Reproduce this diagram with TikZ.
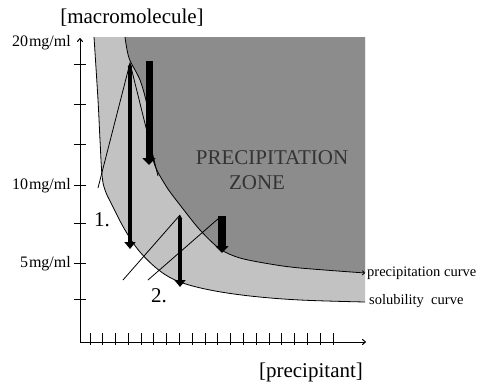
\documentclass[tikz,border=0pt]{standalone}
\usepackage{fontspec}
\setmainfont{Liberation Serif}
\usetikzlibrary{arrows.meta}
\definecolor{dotgray}{gray}{0.76}
\definecolor{checkgray}{gray}{0.55}
\begin{document}
\begin{tikzpicture}[x=1pt,y=-1pt,
  thinline/.style={line width=0.8pt},
  axisline/.style={line width=1pt,-{To[length=4pt,width=6pt]}},
  tickline/.style={line width=1pt},
  bigarrow/.style={line width=4.5pt,{Triangle[length=4pt,width=4.5pt]}-{Triangle[length=7pt,width=11pt]}},
  fatarrow/.style={line width=7pt,-{Triangle[length=7pt,width=13pt]}},
  ylabel/.style={inner sep=0pt,anchor=east,font=\fontsize{16}{18}\selectfont},
  biglabel/.style={inner sep=0pt,font=\fontsize{21}{24}\selectfont},
  curvelabel/.style={inner sep=0pt,anchor=west,font=\fontsize{14.5}{16}\selectfont},
]
\useasboundingbox (0,0) rectangle (488,389);

% regions
\fill[dotgray] plot[smooth,tension=0.6] coordinates {(94,37) (98,100) (100,140) (102,175) (105,190) (112,205) (125,230) (140,252) (160,271) (180,282) (210,290) (250,296) (300,300) (365,302)} -- (365,37) -- cycle;
\fill[checkgray] plot[smooth,tension=0.5] coordinates {(125,37) (129,58) (140,80) (147,105) (151,135) (154,163) (166,186) (180,205) (200,230) (220,249) (240,258) (270,264) (300,268) (365,273)} -- (365,37) -- cycle;

% curves
\draw[thinline] plot[smooth,tension=0.6] coordinates {(94,37) (98,100) (100,140) (102,175) (105,190) (112,205) (125,230) (140,252) (160,271) (180,282) (210,290) (250,296) (300,300) (365,302)};
\draw[thinline,-{To[length=3pt,width=5pt]}] plot[smooth,tension=0.5] coordinates {(125,37) (129,58) (140,80) (147,105) (151,135) (154,163) (166,186) (180,205) (200,230) (220,249) (240,258) (270,264) (300,268) (365,273)};

% axes
\coordinate (O) at (80,342);
\coordinate (ytop) at (80,38);
\coordinate (xend) at (366,342);
\draw[axisline] (O) -- (ytop);
\draw[axisline] (O) -- (xend);
\foreach \y in {64,104,144,185,223,263,299} \draw[tickline] (74,\y) -- (86,\y);
\foreach \i in {0,...,19} \draw[tickline] ({90+\i*12.79},333) -- ({90+\i*12.79},345);

% axis labels
\node[biglabel] (ylab) at (132,18) {[macromolecule]};
\node[biglabel] (xlab) at (311,372) {[precipitant]};
\node[ylabel] (l20) at (71,43) {20\kern1pt mg/ml};
\node[ylabel] (l10) at (71,186) {10\kern1pt mg/ml};
\node[ylabel] (l5) at (71,264) {5\kern1pt mg/ml};

% thin path lines
\coordinate (a1top) at (130,63);
\coordinate (a1bot) at (130,249);
\coordinate (a2top) at (149,61);
\coordinate (a2bot) at (149,165);
\coordinate (a3top) at (180,215);
\coordinate (a3bot) at (180,287);
\coordinate (a4top) at (222,216);
\coordinate (a4bot) at (222,253);
\coordinate (l1s) at (98,188);
\coordinate (l2e) at (158,176);
\coordinate (l3s) at (123,280);
\coordinate (l4s) at (148,280);
\coordinate (l4e) at (219,218);
\draw[thinline] (l1s) -- (a1top) -- (l2e);
\draw[thinline] (l3s) -- (a3top);
\draw[thinline] (l4s) -- (l4e);

% arrows
\draw[bigarrow] (a1top) -- (a1bot);
\draw[fatarrow] (a2top) -- (a2bot);
\draw[bigarrow] (a3top) -- (a3bot);
\draw[fatarrow,line width=8pt] (a4top) -- (a4bot);

% labels
\node[biglabel] (n1) at (102,220) {1.};
\node[biglabel] (n2) at (159,296) {2.};
\node[biglabel,text=black!80] (pz1) at (272,158) {PRECIPITATION};
\node[biglabel,text=black!80] (pz2) at (257,183) {ZONE};
\node[curvelabel] (pc) at (367,273) {precipitation curve};
\node[curvelabel] (sc) at (369,301) {solubility\ \ curve};
\end{tikzpicture}
\end{document}
